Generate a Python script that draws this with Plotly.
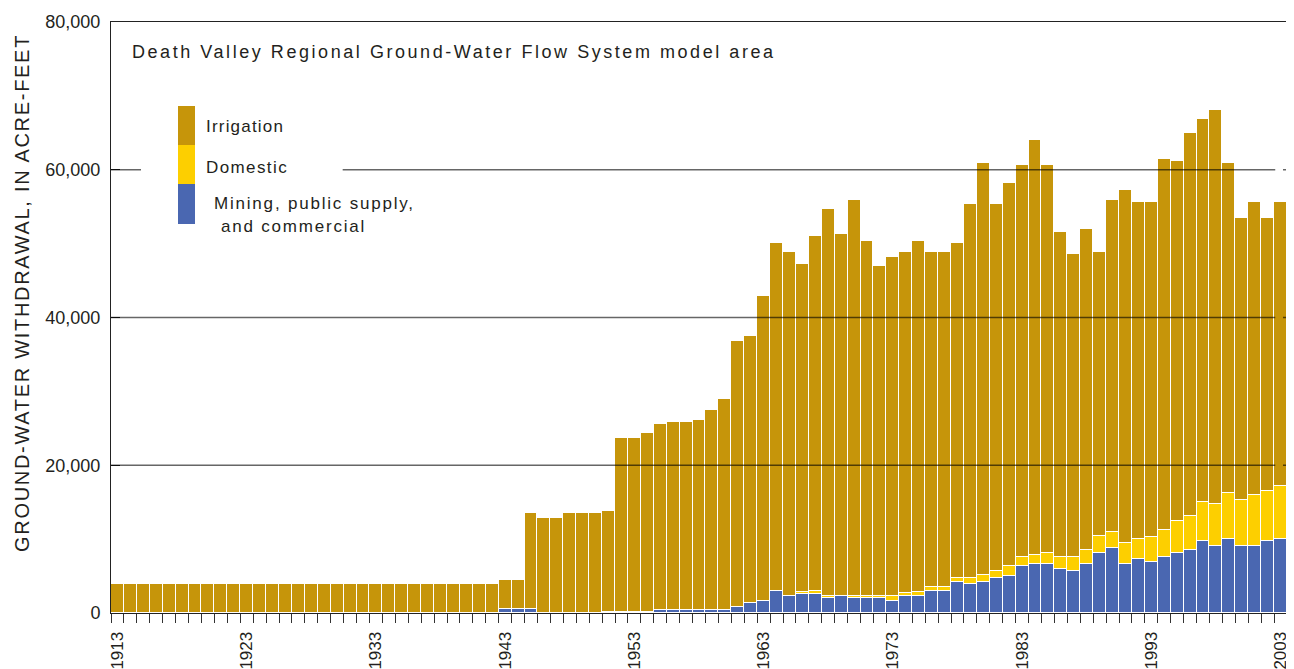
import plotly.graph_objects as go

years = list(range(1913, 2004))

mining = [0] * 30 + [
    500, 500, 500, 0, 0, 0, 0, 0, 150, 200,        # 1943-1952
    200, 150, 400, 400, 400, 400, 400, 400, 810, 1360,   # 1953-1962
    1630, 2980, 2300, 2580, 2580, 2030, 2300, 2030, 2030, 2030,  # 1963-1972
    1630, 2300, 2300, 2980, 2950, 4150, 3920, 4130, 4690, 4970,  # 1973-1982
    6320, 6600, 6600, 5900, 5620, 6600, 8100, 8740, 6600, 7250,  # 1983-1992
    6840, 7530, 8100, 8470, 9680, 9030, 9960, 9030, 9030, 9680,  # 1993-2002
    9960,                                                         # 2003
]

domestic = [0] * 30 + [
    0, 0, 0, 0, 0, 0, 0, 0, 0, 0,
    0, 0, 0, 0, 0, 0, 0, 0, 0, 0,
    0, 0, 0, 270, 400, 270, 0, 270, 270, 270,
    670, 410, 550, 550, 550, 550, 780, 980, 930, 1350,
    1210, 1210, 1580, 1630, 1910, 1870, 2290, 2210, 2850, 2710,
    3400, 3650, 4290, 4620, 5320, 5690, 6250, 6210, 6910, 6820,
    7190,
]

irrigation = [3950] * 30 + [
    4000, 4000, 13060, 12900, 12900, 13560, 13560, 13560, 13680, 23530,
    23530, 24250, 25230, 25500, 25500, 25770, 27130, 28620, 36070, 36070,
    41280, 47100, 46570, 44390, 48050, 52390, 49000, 53600, 48050, 44670,
    45890, 46160, 47500, 45340, 45370, 45380, 50660, 55820, 49760, 51910,
    53120, 56250, 52470, 44070, 41080, 43500, 38500, 44990, 47840, 45700,
    45420, 50310, 48820, 51900, 51900, 53400, 44720, 38220, 39720, 36960,
    38510,
]

label_years = list(range(1913, 2004, 10))
y_ticks = [0, 20000, 40000, 60000, 80000]
grid_values = [20000, 40000, 60000]

series_names = ["Mining, public supply, and commercial", "Domestic", "Irrigation"]
colors = {"Irrigation": "#C6950A", "Domestic": "#FDCF00", "Mining": "#4A67B1"}

FONT = "Liberation Sans, Arial, sans-serif"
TXT = "#231F20"

fig = go.Figure()
for name, vals, col in [
    (series_names[0], mining, colors["Mining"]),
    (series_names[1], domestic, colors["Domestic"]),
    (series_names[2], irrigation, colors["Irrigation"]),
]:
    fig.add_trace(go.Bar(
        x=years, y=vals, name=name, width=1,
        marker=dict(color=col, line=dict(color="white", width=1.2)),
        showlegend=False,
    ))

shapes = []
# gridlines drawn above bars
for gv in grid_values:
    if gv == 60000:
        segs = [(0, 0.0255), (0.197, 0.990), (0.9966, 1)]
    else:
        segs = [(0, 0.990), (0.9966, 1)]
    for a, b in segs:
        shapes.append(dict(type="line", xref="paper", yref="y", x0=a, x1=b, y0=gv, y1=gv,
                           line=dict(color="rgba(0,0,0,0.6)", width=1.5), layer="above"))

# plot area in screen pixels: x 111..1287, y 22..613
def px_x(p):
    return (p - 111) / 1176

def px_y(p):
    return (613 - p) / 591

for (top, bot, col) in [(106, 145, colors["Irrigation"]), (145, 184, colors["Domestic"]), (184, 224, colors["Mining"])]:
    shapes.append(dict(type="rect", xref="paper", yref="paper", x0=px_x(178), x1=px_x(195),
                       y0=px_y(bot), y1=px_y(top), fillcolor=col, line=dict(width=0), layer="above"))

def spaced(t, ls):
    return f'<span style="letter-spacing:{ls}px">{t}</span>'

annotations = [
    dict(text=spaced("Death Valley Regional Ground-Water Flow System model area", 2.55),
         x=px_x(130), y=px_y(52), xref="paper", yref="paper", xanchor="left", yanchor="middle",
         showarrow=False, font=dict(size=18, color=TXT, family=FONT)),
    dict(text=spaced("Irrigation", 1.2), x=px_x(204), y=px_y(126), xref="paper", yref="paper",
         xanchor="left", yanchor="middle", showarrow=False, font=dict(size=17, color=TXT, family=FONT)),
    dict(text=spaced("Domestic", 1.4), x=px_x(204), y=px_y(167), xref="paper", yref="paper",
         xanchor="left", yanchor="middle", showarrow=False, font=dict(size=17, color=TXT, family=FONT)),
    dict(text=spaced("Mining, public supply,", 1.8), x=px_x(212), y=px_y(204), xref="paper", yref="paper",
         xanchor="left", yanchor="middle", showarrow=False, font=dict(size=17, color=TXT, family=FONT)),
    dict(text=spaced("and commercial", 1.8), x=px_x(219), y=px_y(226), xref="paper", yref="paper",
         xanchor="left", yanchor="middle", showarrow=False, font=dict(size=17, color=TXT, family=FONT)),
    dict(text=spaced("GROUND-WATER WITHDRAWAL, IN ACRE-FEET", 1.7), x=px_x(22), y=px_y(293),
         xref="paper", yref="paper", xanchor="center", yanchor="middle", textangle=-90,
         showarrow=False, font=dict(size=20, color=TXT, family=FONT)),
]

# the page places the figure 8px from the top-left corner
fig.update_layout(
    width=1286, height=661,
    margin=dict(l=103, r=7, t=14, b=56, autoexpand=False),
    paper_bgcolor="white", plot_bgcolor="white",
    barmode="stack", bargap=0,
    shapes=shapes, annotations=annotations,
    font=dict(family=FONT, color=TXT),
    xaxis=dict(
        range=[1912.5, 2003.5], tickvals=label_years, ticktext=[str(y) for y in label_years],
        tickangle=-90, ticks="", ticklabelstandoff=11, automargin=False,
        tickfont=dict(size=17, color=TXT, family=FONT),
        minor=dict(tick0=1912.5, dtick=1, ticks="outside", ticklen=9, tickcolor="#333", tickwidth=1),
        showline=True, linecolor="#222", linewidth=1, mirror=True, showgrid=False, zeroline=False,
    ),
    yaxis=dict(
        range=[0, 80000], tickvals=y_ticks, tickformat=",", ticks="inside", ticklen=9,
        tickcolor="#222", tickfont=dict(size=18, color=TXT, family=FONT), ticklabelstandoff=6,
        automargin=False,
        showline=True, linecolor="#222", linewidth=1, mirror=True, showgrid=False, zeroline=False,
    ),
)

fig.write_html("out.html")
